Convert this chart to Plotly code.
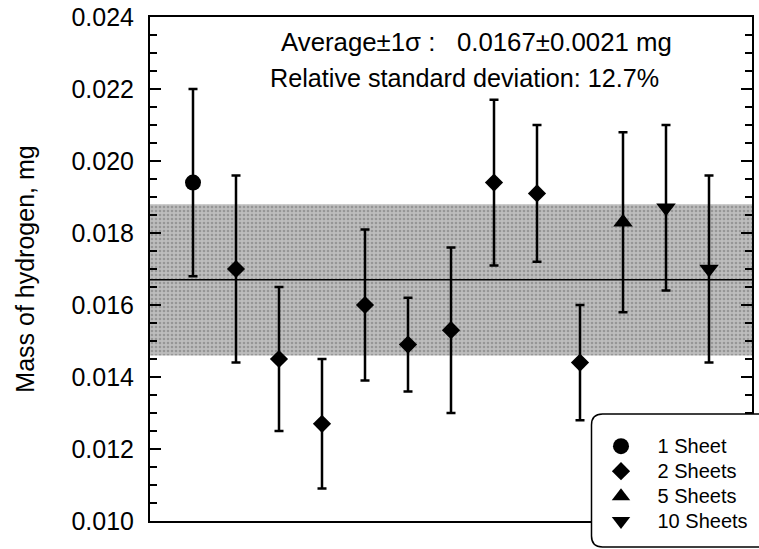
import plotly.graph_objects as go

# ---- data ----
groups = ["1 Sheet", "2 Sheets", "5 Sheets", "10 Sheets"]
symbols = ["circle", "diamond", "triangle-up", "triangle-down"]
sizes = [16, 14, 17, 17]

x_1 = [1]
y_1 = [0.0194]
e_1 = [0.0026]

x_2 = [2, 3, 4, 5, 6, 7, 8, 9, 10]
y_2 = [0.0170, 0.0145, 0.0127, 0.0160, 0.0149, 0.0153, 0.0194, 0.0191, 0.0144]
e_2 = [0.0026, 0.0020, 0.0018, 0.0021, 0.0013, 0.0023, 0.0023, 0.0019, 0.0016]

x_5 = [11]
y_5 = [0.0183]
e_5 = [0.0025]

x_10 = [12, 13]
y_10 = [0.0187, 0.0170]
e_10 = [0.0023, 0.0026]

mean_val = 0.0167
sigma_val = 0.0021
x_range = [0, 14]
y_range = [0.010, 0.024]
y_ticks = [0.010, 0.012, 0.014, 0.016, 0.018, 0.020, 0.022, 0.024]
y_ticktext = ["0.010", "0.012", "0.014", "0.016", "0.018", "0.020", "0.022", "0.024"]

# ---- layout geometry ----
W, H = 759, 549
# plot area in screen pixels (page body margin removed below)
L, R, T, B = 150, 752, 17, 521


def px_x(px):
    return (px - L) / (R - L)


def px_y(py):
    return (B - py) / (B - T)


fig = go.Figure()

# shaded +-1 sigma band
fig.add_trace(go.Scatter(
    x=[x_range[0], x_range[1], x_range[1], x_range[0], x_range[0]],
    y=[mean_val - sigma_val, mean_val - sigma_val, mean_val + sigma_val,
       mean_val + sigma_val, mean_val - sigma_val],
    mode="none", fill="toself", fillcolor="#b8b8b8",
    fillpattern=dict(shape=".", bgcolor="#bdbdbd", fgcolor="#707070",
                     size=4, solidity=0.35),
    showlegend=False, hoverinfo="skip"))

# mean line
fig.add_trace(go.Scatter(
    x=x_range, y=[mean_val, mean_val], mode="lines",
    line=dict(color="black", width=1.6), showlegend=False, hoverinfo="skip"))

for name, sym, sz, xs, ys, es in zip(
        groups, symbols, sizes, [x_1, x_2, x_5, x_10], [y_1, y_2, y_5, y_10],
        [e_1, e_2, e_5, e_10]):
    fig.add_trace(go.Scatter(
        x=xs, y=ys, mode="markers",
        name=f"<span style='font-size:20px'>{name}</span>",
        marker=dict(symbol=sym, size=sz, color="black", line=dict(width=0)),
        error_y=dict(type="data", array=es, visible=True, color="black",
                     thickness=2.5, width=4.5)))

font = "Arial, Liberation Sans, sans-serif"

fig.update_layout(
    width=W, height=H,
    margin=dict(l=L, r=W - R, t=T, b=H - B, autoexpand=False),
    paper_bgcolor="white", plot_bgcolor="white",
    font=dict(family=font, color="black", size=25),
    showlegend=True,
    legend=dict(x=px_x(584.5), y=px_y(428.7), xanchor="left", yanchor="top",
                bgcolor="rgba(0,0,0,0)", borderwidth=0,
                font=dict(size=16.9, family=font, color="black"),
                itemwidth=63, tracegroupgap=0),
    xaxis=dict(range=x_range, showgrid=False, zeroline=False,
               showticklabels=False, ticks="", showline=True,
               linecolor="black", linewidth=2, mirror=True),
    yaxis=dict(range=y_range, showgrid=False, zeroline=False,
               tickmode="array", tickvals=y_ticks, ticktext=y_ticktext,
               ticks="inside", ticklen=11, tickwidth=2, tickcolor="black",
               minor=dict(dtick=0.0005, ticks="inside", ticklen=7,
                          tickwidth=2, tickcolor="black"),
               showline=True, linecolor="black", linewidth=2, mirror="ticks",
               ticklabelstandoff=9,
               tickfont=dict(size=25, family=font),
               title=dict(text="Mass of hydrogen, mg", standoff=30,
                          font=dict(size=25, family=font))),
)

# annotations
fig.add_annotation(x=px_x(279), y=px_y(42), xref="paper", yref="paper",
                   text="Average\u00b11\u03c3\u00a0:\u00a0\u00a0\u00a00.0167\u00b10.0021 mg",
                   showarrow=False, font=dict(size=25.8, family=font),
                   xanchor="left", yanchor="middle")
fig.add_annotation(x=px_x(268), y=px_y(78), xref="paper", yref="paper",
                   text="Relative standard deviation: 12.7%",
                   showarrow=False, font=dict(size=25.2, family=font),
                   xanchor="left", yanchor="middle")

# legend box with rounded corners (covers axis frame corner)
bl, bt, bb, br = 591.5, 414, 547, 775
r = 11
rx, ry = r / (R - L), r / (B - T)
x0, x1 = px_x(bl), px_x(br)
y0, y1 = px_y(bb), px_y(bt)
path = (f"M {x1},{y1} L {x0 + rx},{y1} Q {x0},{y1} {x0},{y1 - ry} "
        f"L {x0},{y0 + ry} Q {x0},{y0} {x0 + rx},{y0} L {x1},{y0} Z")
fig.add_shape(type="path", path=path, xref="paper", yref="paper",
              fillcolor="white", line=dict(color="black", width=1.5),
              layer="above")

fig.write_html("out.html",
               config={"displayModeBar": False},
               post_script="document.body.style.margin='0';"
                           "document.body.style.padding='0';")
